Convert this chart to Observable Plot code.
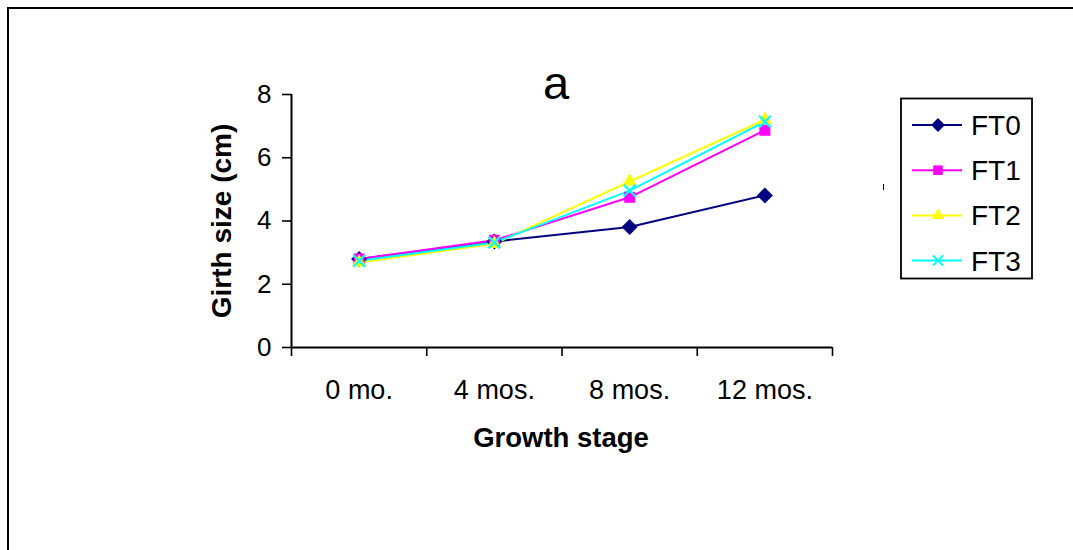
<!DOCTYPE html>
<html><head><meta charset="utf-8">
<script src="https://cdn.jsdelivr.net/npm/d3@7"></script>
<script src="https://cdn.jsdelivr.net/npm/@observablehq/plot@0.6"></script>
<style>
body{margin:0;background:#fff;}
#wrap{position:relative;width:1073px;height:550px;overflow:hidden;background:#fff;font-family:"Liberation Sans",Arial,sans-serif;}
#border{position:absolute;left:7px;top:7px;width:1200px;height:700px;border-left:2px solid #000;border-top:2px solid #000;}
#wrap svg{position:absolute;left:0;top:0;}
</style></head><body><div id="wrap"><div id="border"></div></div>
<script>
// ---- data ----
const categories = ["0 mo.", "4 mos.", "8 mos.", "12 mos."];
const seriesNames = ["FT0", "FT1", "FT2", "FT3"];
const ft0 = [2.80, 3.35, 3.81, 4.81];
const ft1 = [2.80, 3.39, 4.75, 6.87];
const ft2 = [2.69, 3.28, 5.25, 7.20];
const ft3 = [2.74, 3.32, 4.96, 7.14];
const yTicks = [0, 2, 4, 6, 8];
const title = "a";
const xLabel = "Growth stage";
const yLabel = "Girth size (cm)";

// ---- styles ----
const colors = ["#000080", "#ff00ff", "#ffff00", "#00ffff"];
const symbols = ["diamond2", "square2", "triangle2", "times"];
const d3symbols = [d3.symbolDiamond2, d3.symbolSquare2, d3.symbolTriangle2, d3.symbolTimes];
const radii = [7.2, 7.0, 6.8, 5.4];
const filled = [true, true, true, false];
const font = "Liberation Sans, Arial, sans-serif";

const values = [ft0, ft1, ft2, ft3];
const rows = seriesNames.flatMap((s, si) => categories.map((c, ci) => ({series: s, si, stage: c, pos: ci + 0.5, value: values[si][ci]})));

const marks = [
  Plot.axisX({ticks: d3.range(0, categories.length + 1), tickFormat: () => "", tickSize: 9, strokeWidth: 1.6, label: null}),
  Plot.axisX({ticks: categories.map((c, i) => i + 0.5), tickFormat: d => categories[Math.floor(d)], tickSize: 0, tickPadding: 32, fontSize: 27, label: null}),
  Plot.axisY({ticks: yTicks, tickSize: 9, tickPadding: 11, fontSize: 26, strokeWidth: 1.6, label: null}),
  Plot.ruleX([0], {stroke: "#000", strokeWidth: 2}),
  Plot.ruleY([0], {stroke: "#000", strokeWidth: 2}),
];
seriesNames.forEach((s, si) => {
  const d = rows.filter(r => r.si === si);
  marks.push(Plot.line(d, {x: "pos", y: "value", stroke: colors[si], strokeWidth: 2}));
});
seriesNames.forEach((s, si) => {
  const d = rows.filter(r => r.si === si);
  marks.push(Plot.dot(d, filled[si]
    ? {x: "pos", y: "value", symbol: () => symbols[si], r: radii[si], fill: colors[si], stroke: "none"}
    : {x: "pos", y: "value", symbol: () => symbols[si], r: radii[si], stroke: colors[si], strokeWidth: 2.2, fill: "none"}));
});
marks.push(
  Plot.text([title], {frameAnchor: "top", text: d => d, dx: -6, dy: 4, lineAnchor: "bottom", fontSize: 47, fill: "#000"}),
  Plot.text([xLabel], {frameAnchor: "bottom", text: d => d, dx: -1, dy: 99, lineAnchor: "bottom", fontSize: 27.5, fontWeight: "bold", fill: "#000"}),
  Plot.text([yLabel], {frameAnchor: "left", text: d => d, rotate: -90, dx: -69, textAnchor: "middle", lineAnchor: "middle", fontSize: 28, fontWeight: "bold", fill: "#000"})
);

const chart = Plot.plot({
  width: 1073, height: 550,
  marginLeft: 291, marginRight: 241, marginTop: 94, marginBottom: 203,
  style: {background: "transparent", fontFamily: font, color: "#000", overflow: "visible"},
  x: {type: "linear", domain: [0, categories.length]},
  y: {domain: [0, 8]},
  symbol: {type: "identity"},
  marks
});
document.getElementById("wrap").appendChild(chart);

// ---- legend (layout overlay) ----
const svg = d3.select(chart);
const lg = svg.append("g").attr("font-family", font).attr("text-anchor", "start");
lg.append("rect").attr("x", 901).attr("y", 98.5).attr("width", 131).attr("height", 180)
  .attr("fill", "#fff").attr("stroke", "#000").attr("stroke-width", 1.8);
seriesNames.forEach((s, i) => {
  const cy = 125 + i * 45.2;
  lg.append("line").attr("x1", 912).attr("x2", 962).attr("y1", cy).attr("y2", cy)
    .attr("stroke", colors[i]).attr("stroke-width", 2);
  const size = Math.PI * radii[i] * radii[i] * 0.75;
  lg.append("path").attr("d", d3.symbol(d3symbols[i], size)())
    .attr("transform", `translate(938,${cy})`)
    .attr("fill", filled[i] ? colors[i] : "none")
    .attr("stroke", filled[i] ? "none" : colors[i]).attr("stroke-width", 2);
  lg.append("text").attr("x", 971).attr("y", cy + 9.9).attr("font-size", 28).attr("fill", "#000")
    .attr("text-anchor", "start").text(s);
});
svg.append("line").attr("x1", 883.5).attr("x2", 883.5).attr("y1", 184).attr("y2", 190).attr("stroke", "#000").attr("stroke-width", 1);
</script></body></html>
